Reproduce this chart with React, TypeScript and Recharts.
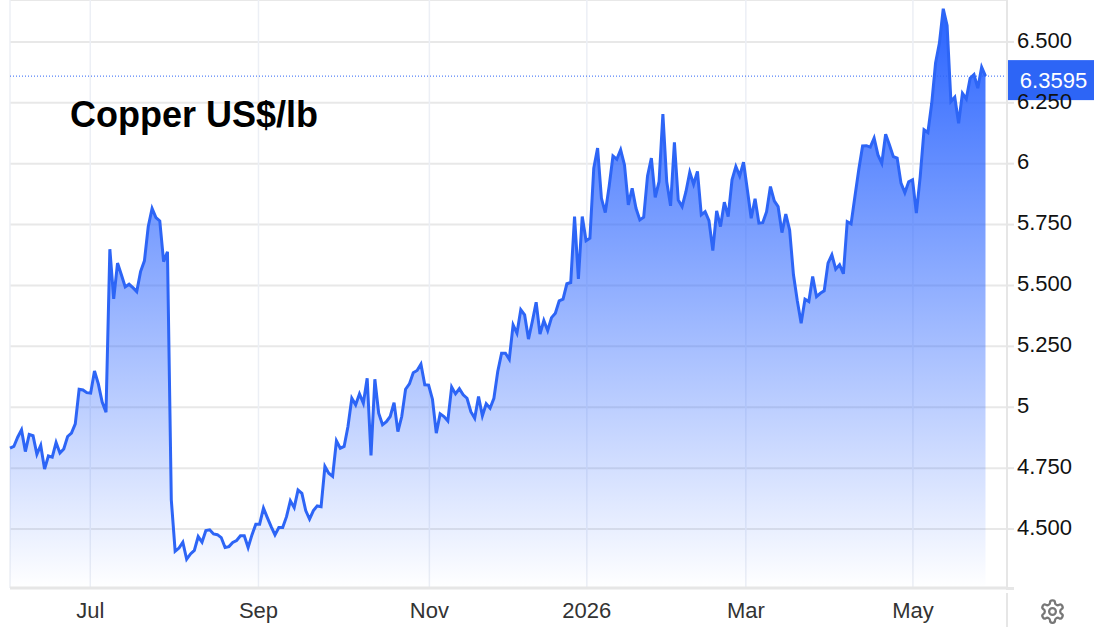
import { AreaChart, Area, XAxis, YAxis, CartesianGrid, ReferenceLine } from 'recharts';

// trading days
const prices = [
  4.832, 4.839, 4.877, 4.907, 4.818, 4.888, 4.883, 4.807, 4.844, 4.746, 4.8, 4.795, 4.855, 4.812, 4.829, 4.88,
  4.894, 4.932, 5.074, 5.071, 5.06, 5.058, 5.149, 5.096, 5.021, 4.98, 5.649, 5.445, 5.592, 5.544, 5.494, 5.505,
  5.491, 5.475, 5.557, 5.601, 5.742, 5.816, 5.779, 5.765, 5.598, 5.638, 4.62, 4.409, 4.422, 4.446, 4.376, 4.398,
  4.412, 4.469, 4.446, 4.494, 4.497, 4.48, 4.477, 4.465, 4.424, 4.428, 4.445, 4.453, 4.472, 4.472, 4.424, 4.476,
  4.52, 4.52, 4.586, 4.547, 4.51, 4.476, 4.506, 4.506, 4.551, 4.616, 4.588, 4.66, 4.647, 4.576, 4.541, 4.576,
  4.595, 4.592, 4.757, 4.729, 4.716, 4.862, 4.832, 4.839, 4.921, 5.037, 5.01, 5.055, 5.017, 5.119, 4.802, 5.115,
  4.976, 4.928, 4.941, 4.962, 5.019, 4.9, 4.962, 5.074, 5.096, 5.142, 5.151, 5.177, 5.092, 5.091, 5.033, 4.894,
  4.973, 4.962, 4.944, 5.083, 5.055, 5.076, 5.051, 5.037, 4.982, 4.955, 5.044, 4.965, 5.014, 4.996, 5.037, 5.147,
  5.222, 5.222, 5.197, 5.338, 5.304, 5.4, 5.379, 5.28, 5.352, 5.431, 5.3, 5.356, 5.315, 5.368, 5.386, 5.437,
  5.444, 5.507, 5.512, 5.783, 5.527, 5.783, 5.684, 5.694, 5.982, 6.064, 5.858, 5.799, 5.906, 6.032, 6.018, 6.057,
  5.995, 5.831, 5.899, 5.817, 5.769, 5.78, 5.95, 6.023, 5.862, 5.926, 6.204, 5.926, 5.827, 6.088, 5.851, 5.824,
  5.885, 5.965, 5.916, 5.968, 5.79, 5.803, 5.766, 5.643, 5.806, 5.742, 5.842, 5.783, 5.934, 5.988, 5.95, 6.006,
  5.892, 5.776, 5.856, 5.756, 5.758, 5.803, 5.906, 5.847, 5.824, 5.717, 5.793, 5.728, 5.544, 5.437, 5.345, 5.444,
  5.434, 5.537, 5.454, 5.468, 5.478, 5.592, 5.626, 5.567, 5.585, 5.548, 5.762, 5.753, 5.865, 5.975, 6.073, 6.074,
  6.068, 6.105, 6.036, 6.002, 6.121, 6.077, 6.029, 6.023, 5.92, 5.881, 5.926, 5.934, 5.797, 5.947, 6.139, 6.128,
  6.248, 6.413, 6.495, 6.636, 6.567, 6.255, 6.273, 6.166, 6.289, 6.266, 6.351, 6.366, 6.31, 6.396, 6.3595,
];

const monthTicks = [20.9, 64.7, 109.2, 150.2, 191.6, 235.1];
const monthLabels = ['Jul', 'Sep', 'Nov', '2026', 'Mar', 'May'];
const priceTicks = [4.5, 4.75, 5, 5.25, 5.5, 5.75, 6, 6.25, 6.5];
const priceLabels = ['4.500', '4.750', '5', '5.250', '5.500', '5.750', '6', '6.250', '6.500'];
const lastPrice = 6.3595;

const BLUE = '#2d65f6';
const FONT = '"Liberation Sans", Arial, sans-serif';

const chartData = prices.map((price, day) => ({ day, price }));

const PriceTag = ({ viewBox }: any) => {
  const right = viewBox.x + viewBox.width;
  return (
    <g>
      <rect x={right} y={viewBox.y - 16} width={87} height={40} fill={BLUE} />
      <text x={right + 46.5} y={viewBox.y + 12} textAnchor="middle" fill="#fff" fontSize={22} fontFamily={FONT}>
        {lastPrice}
      </text>
    </g>
  );
};

const App = () => {
  return (
    <div style={{ position: 'absolute', left: 0, top: 0, width: 1094, height: 627, background: '#fff', overflow: 'hidden' }}>
      <AreaChart
        width={1094}
        height={627}
        data={chartData}
        margin={{ top: 0, right: 0, bottom: 0, left: 10 }}
      >
        <defs>
          <linearGradient id="copperFill" x1="0" y1="0" x2="0" y2="1">
            <stop offset="0%" stopColor="#2a64ff" stopOpacity={1} />
            <stop offset="100%" stopColor="#2a64ff" stopOpacity={0} />
          </linearGradient>
        </defs>
        <CartesianGrid vertical={false} stroke="#e8e8e8" strokeWidth={2} />
        <CartesianGrid horizontal={false} stroke="#eceff5" strokeWidth={1.5} />
        <XAxis
          dataKey="day"
          type="number"
          domain={[0, 259.6]}
          ticks={monthTicks}
          interval={0}
          height={39}
          tickLine={false}
          axisLine={{ stroke: '#e6e6e6', strokeWidth: 3 }}
          tickMargin={8}
          tick={{ fontSize: 22, fontFamily: FONT, fill: '#333' }}
          tickFormatter={(value: number) => monthLabels[monthTicks.indexOf(value)]}
        />
        <YAxis
          orientation="right"
          width={87}
          type="number"
          domain={[4.258, 6.672]}
          allowDataOverflow
          ticks={priceTicks}
          interval={0}
          tickSize={7}
          tickMargin={3}
          tickLine={{ stroke: '#e6e6e6', strokeWidth: 2 }}
          axisLine={{ stroke: '#e6e6e6', strokeWidth: 2 }}
          tick={{ fontSize: 22, fontFamily: FONT, fill: '#111', textAnchor: 'start', dy: -2 }}
          tickFormatter={(value: number) => priceLabels[priceTicks.indexOf(value)]}
        />
        <Area
          type="linear"
          dataKey="price"
          stroke={BLUE}
          strokeWidth={3}
          fill="url(#copperFill)"
          fillOpacity={1}
          dot={false}
          activeDot={false}
          isAnimationActive={false}
        />
        <ReferenceLine y={lastPrice} stroke={BLUE} strokeWidth={1} strokeDasharray="1 2" label={<PriceTag />} />
      </AreaChart>

      <div
        style={{
          position: 'absolute',
          left: 70,
          top: 94,
          fontFamily: FONT,
          fontWeight: 700,
          fontSize: 36,
          lineHeight: '42px',
          color: '#000',
          whiteSpace: 'nowrap',
        }}
      >
        Copper US$/lb
      </div>

      <div style={{ position: 'absolute', left: 1006, top: 587, width: 8, height: 3, background: '#e6e6e6' }} />
      <div style={{ position: 'absolute', left: 1006, top: 593, width: 2, height: 34, background: '#e6e6e6' }} />

      <svg
        style={{ position: 'absolute', left: 1039, top: 598 }}
        width={27}
        height={27}
        viewBox="0 0 24 24"
        fill="none"
        stroke="#777"
        strokeWidth={2}
      >
        <path d="M12.22 2h-.44a2 2 0 0 0-2 2v.18a2 2 0 0 1-1 1.73l-.43.25a2 2 0 0 1-2 0l-.15-.08a2 2 0 0 0-2.73.73l-.22.38a2 2 0 0 0 .73 2.73l.15.1a2 2 0 0 1 1 1.72v.51a2 2 0 0 1-1 1.74l-.15.09a2 2 0 0 0-.73 2.73l.22.38a2 2 0 0 0 2.73.73l.15-.08a2 2 0 0 1 2 0l.43.25a2 2 0 0 1 1 1.73V20a2 2 0 0 0 2 2h.44a2 2 0 0 0 2-2v-.18a2 2 0 0 1 1-1.73l.43-.25a2 2 0 0 1 2 0l.15.08a2 2 0 0 0 2.73-.73l.22-.39a2 2 0 0 0-.73-2.73l-.15-.08a2 2 0 0 1-1-1.74v-.5a2 2 0 0 1 1-1.74l.15-.09a2 2 0 0 0 .73-2.73l-.22-.38a2 2 0 0 0-2.73-.73l-.15.08a2 2 0 0 1-2 0l-.43-.25a2 2 0 0 1-1-1.73V4a2 2 0 0 0-2-2z" />
        <circle cx={12} cy={12} r={3} />
      </svg>
    </div>
  );
};

export default App;
